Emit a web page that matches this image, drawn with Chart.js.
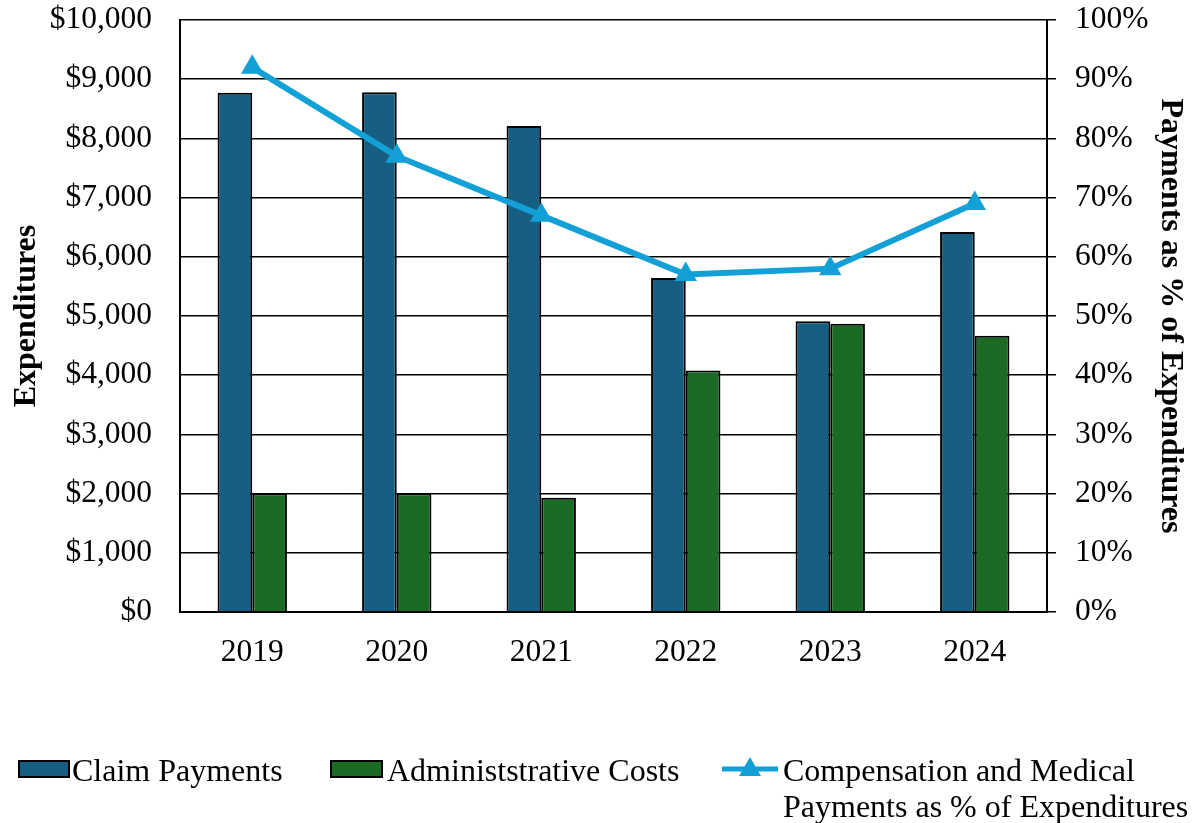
<!DOCTYPE html>
<html>
<head>
<meta charset="utf-8">
<script src="https://cdn.jsdelivr.net/npm/chart.js@4/dist/chart.umd.min.js"></script>
<style>
  body { margin: 0; background: #fff; }
  #wrap { position: relative; width: 1194px; height: 823px; }
  #c { position: absolute; left: 0; top: 0; }
  .lg { position: absolute; font-family: "Liberation Serif", "Times New Roman", serif; font-size: 32px; line-height: 1; color: #000; white-space: nowrap; }
  .box { position: absolute; box-sizing: border-box; border: 2px solid #000; }
</style>
</head>
<body>
<div id="wrap">
  <canvas id="c" width="1194" height="823"></canvas>
  <div class="box" style="left:18px;top:760px;width:52px;height:18px;background:#175F82"></div>
  <div class="lg" style="left:72px;top:754px">Claim Payments</div>
  <div class="box" style="left:330px;top:760px;width:53px;height:18px;background:#1B6B24"></div>
  <div class="lg" style="left:387px;top:754px">Administstrative Costs</div>
  <svg style="position:absolute;left:720px;top:755px" width="62" height="26">
    <line x1="2" y1="14" x2="58" y2="14" stroke="#12A0D7" stroke-width="5"/>
    <polygon points="30,2 41,21 19,21" fill="#12A0D7"/>
  </svg>
  <div class="lg" style="left:783px;top:754px">Compensation and Medical</div>
  <div class="lg" style="left:783px;top:790px">Payments as % of Expenditures</div>
</div>
<script>
const years = ["2019", "2020", "2021", "2022", "2023", "2024"];
const claimPayments = [8770, 8780, 8210, 5640, 4910, 6420];
const adminCosts = [2000, 2005, 1930, 4080, 4870, 4665];
const paymentsPct = [92, 77, 67, 57, 58, 69];

const serif = "'Liberation Serif', 'Times New Roman', serif";

new Chart(document.getElementById('c'), {
    data: {
        labels: years,
        datasets: [
            {
                type: 'line',
                label: 'Compensation and Medical Payments as % of Expenditures',
                data: paymentsPct,
                yAxisID: 'y2',
                borderColor: '#12A0D7',
                backgroundColor: '#12A0D7',
                borderWidth: 6,
                pointStyle: 'triangle',
                pointRadius: 13,
                pointBorderWidth: 0,
                lineTension: 0,
                order: 0
            },
            {
                type: 'bar',
                label: 'Claim Payments',
                data: claimPayments,
                yAxisID: 'y',
                backgroundColor: '#175F82',
                borderColor: '#000',
                borderWidth: 2,
                categoryPercentage: 0.48,
                barPercentage: 1.0,
                order: 1
            },
            {
                type: 'bar',
                label: 'Administstrative Costs',
                data: adminCosts,
                yAxisID: 'y',
                backgroundColor: '#1B6B24',
                borderColor: '#000',
                borderWidth: 2,
                categoryPercentage: 0.48,
                barPercentage: 1.0,
                order: 1
            }
        ]
    },
    options: {
        responsive: false,
        animation: false,
        layout: { autoPadding: false, padding: { top: 20 } },
        plugins: {
            legend: { display: false },
            tooltip: { enabled: false }
        },
        scales: {
            x: {
                afterFit: (s) => { s.height = 211; },
                grid: { display: false, drawTicks: false },
                border: { color: '#000', width: 2 },
                ticks: { color: '#000', padding: 22, font: { family: serif, size: 31.5 } }
            },
            y: {
                position: 'left',
                min: 0,
                max: 10000,
                afterFit: (s) => { s.width = 180; s.paddingTop = 0; },
                grid: { color: '#000', lineWidth: 1.5, drawTicks: false },
                border: { color: '#000', width: 2 },
                ticks: {
                    stepSize: 1000,
                    color: '#000',
                    padding: 28,
                    font: { family: serif, size: 31.5 },
                    callback: (v) => '$' + v.toLocaleString('en-US')
                },
                title: {
                    display: true,
                    text: 'Expenditures',
                    color: '#000',
                    padding: { top: 8, bottom: 0 },
                    font: { family: serif, size: 32, weight: 'bold' }
                }
            },
            y2: {
                position: 'right',
                min: 0,
                max: 100,
                afterFit: (s) => { s.width = 147; s.paddingTop = 0; },
                grid: { color: '#000', lineWidth: 1.5, drawOnChartArea: false, drawTicks: true, tickLength: 9 },
                border: { color: '#000', width: 2 },
                ticks: {
                    stepSize: 10,
                    color: '#000',
                    padding: 19,
                    font: { family: serif, size: 31.5 },
                    callback: (v) => v + '%'
                },
                title: {
                    display: true,
                    text: 'Payments as % of Expenditures',
                    color: '#000',
                    padding: { top: 5, bottom: 0 },
                    font: { family: serif, size: 32, weight: 'bold' }
                }
            }
        }
    }
});
</script>
</body>
</html>
